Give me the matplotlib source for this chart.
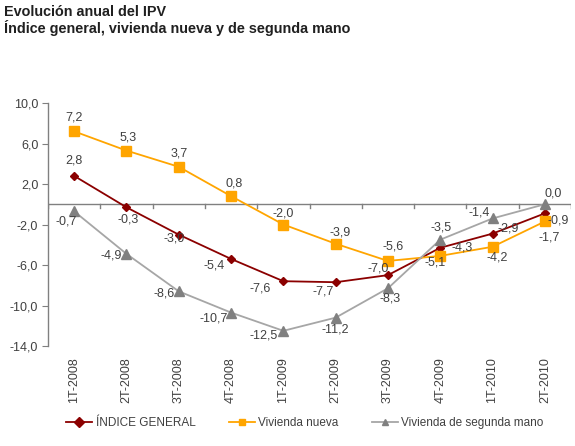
import matplotlib
matplotlib.use("Agg")
import matplotlib.pyplot as plt

plt.rcParams['font.family'] = ['Liberation Sans', 'DejaVu Sans']

categories = ["1T-2008", "2T-2008", "3T-2008", "4T-2008", "1T-2009",
              "2T-2009", "3T-2009", "4T-2009", "1T-2010", "2T-2010"]
indice_general = [2.8, -0.3, -3.0, -5.4, -7.6, -7.7, -7.0, -4.3, -2.9, -0.9]
vivienda_nueva = [7.2, 5.3, 3.7, 0.8, -2.0, -3.9, -5.6, -5.1, -4.2, -1.7]
segunda_mano = [-0.7, -4.9, -8.6, -10.7, -12.5, -11.2, -8.3, -3.5, -1.4, 0.0]
yticks = [10, 6, 2, -2, -6, -10, -14]

# label offsets in pixels (dx, dy) with dy upward
off_gen = [(0, 15), (2, -12), (-5, -4), (-17, -7), (-23, -7), (-12, -9),
           (-10, 7), (22, 0), (16, 5), (13, -7)]
off_nue = [(0, 14), (2, 13), (0, 13), (3, 13), (0, 11), (4, 11),
           (5, 14), (-5, -7), (5, -11), (4, -16)]
off_seg = [(-8, -10), (-15, -2), (-15, -2), (-17, -6), (-20, -5), (0, -12),
           (2, -10), (1, 12), (-13, 6), (8, 11)]

fig = plt.figure(figsize=(5.75, 4.46), dpi=100)
ax = fig.add_axes([48/575, 1-346/446, (571-48)/575, (346-103)/446])

x = list(range(len(categories)))
c_gen = '#8B0000'
c_nue = '#FFA500'
c_seg_line = '#A6A6A6'
c_seg_mark = '#808080'

ax.plot(x, indice_general, color=c_gen, lw=1.3, marker='D', ms=4.5,
        mfc=c_gen, mec=c_gen, label='ÍNDICE GENERAL', zorder=3)
ax.plot(x, vivienda_nueva, color=c_nue, lw=1.3, marker='s', ms=7,
        mfc=c_nue, mec=c_nue, label='Vivienda nueva', zorder=3)
ax.plot(x, segunda_mano, color=c_seg_line, lw=1.3, marker='^', ms=7,
        mfc=c_seg_mark, mec=c_seg_mark, label='Vivienda de segunda mano', zorder=3)

def fmt(v):
    return f"{v:.1f}".replace('.', ',')

for series, offs in ((indice_general, off_gen), (vivienda_nueva, off_nue), (segunda_mano, off_seg)):
    for xi, v, (dx, dy) in zip(x, series, offs):
        ax.annotate(fmt(v), (xi, v), xytext=(dx, dy), textcoords='offset pixels',
                    ha='center', va='center', fontsize=9, color='#404040', zorder=4)

ax.set_xlim(-0.5, len(categories) - 0.5)
ax.set_ylim(-14, 10)
ax.set_yticks(yticks)
ax.set_yticklabels([fmt(v) for v in yticks], fontsize=9, color='#404040')
ax.tick_params(axis='y', direction='out', length=4, color='#808080', pad=3)

for s in ('top', 'right', 'bottom'):
    ax.spines[s].set_visible(False)
ax.spines['left'].set_color('#808080')
ax.spines['left'].set_linewidth(1)

# zero line with category-separator ticks
ax.axhline(0, color='#808080', lw=1, zorder=2)
for k in range(len(categories) + 1):
    ax.plot([k - 0.5, k - 0.5], [0, -0.4], color='#808080', lw=1, zorder=2)

ax.set_xticks(x)
ax.set_xticklabels(categories, rotation=90, fontsize=9, color='#404040')
ax.tick_params(axis='x', length=0, pad=8)

fig.text(4/575, 1-12/446, 'Evolución anual del IPV', fontsize=10.4, fontweight='bold',
         color='#202020', va='center', ha='left')
fig.text(4/575, 1-28/446, 'Índice general, vivienda nueva y de segunda mano', fontsize=10.4,
         fontweight='bold', color='#202020', va='center', ha='left')

leg = fig.legend(loc='center', bbox_to_anchor=(305/575, 1-423/446), ncol=3, frameon=False,
                 fontsize=8.5, handlelength=2.2, columnspacing=2.8, handletextpad=0.3)
for t in leg.get_texts():
    t.set_color('#404040')
for h in leg.legend_handles:
    h.set_markersize(5)

fig.savefig('out.png', dpi=100)
